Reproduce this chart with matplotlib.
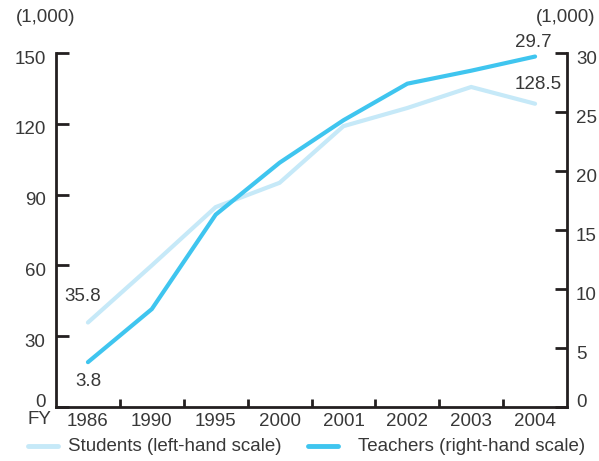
import matplotlib
matplotlib.use("Agg")
import matplotlib.pyplot as plt
import matplotlib.transforms as mtransforms
from matplotlib.lines import Line2D

plt.rcParams['font.family'] = ['Liberation Sans', 'DejaVu Sans']

years = ["1986", "1990", "1995", "2000", "2001", "2002", "2003", "2004"]
students = [35.8, 60.0, 84.7, 95.0, 119.0, 126.7, 135.6, 128.5]   # thousands, left scale
teachers = [3.8, 8.3, 16.3, 20.7, 24.3, 27.4, 28.5, 29.7]         # thousands, right scale

left_ticks = [0, 30, 60, 90, 120, 150]
right_ticks = [0, 5, 10, 15, 20, 25, 30]

W, H = 599, 461
FS = 13.5
TXT = "#383838"
C_STU = "#c6e9f8"
C_TEA = "#3fc5ef"
AX = "#231f20"

fig = plt.figure(figsize=(W / 100, H / 100), dpi=100)
ax = fig.add_axes([56 / W, 1 - 407 / H, (567 - 56) / W, (407 - 53) / H])
ax2 = ax.twinx()

x = list(range(len(years)))
ax.plot(x, students, color=C_STU, lw=3.0, solid_capstyle='round', solid_joinstyle='miter', zorder=3)
ax2.plot(x, teachers, color=C_TEA, lw=3.0, solid_capstyle='round', solid_joinstyle='miter', zorder=3)

ax.set_xlim(-0.5, len(years) - 0.5)
ax.set_ylim(0, 150)
ax2.set_ylim(0, 30)

for a in (ax, ax2):
    a.spines['top'].set_visible(False)
    for s in ('left', 'right', 'bottom'):
        a.spines[s].set_color(AX)
        a.spines[s].set_linewidth(2.0)
ax.spines['right'].set_visible(False)
ax2.spines['left'].set_visible(False)
ax2.spines['bottom'].set_visible(False)

ax.set_yticks(left_ticks)
ax.set_yticklabels([str(v) for v in left_ticks])
ax.tick_params(axis='y', direction='in', length=9, width=2.0, color=AX,
               labelsize=FS, labelcolor=TXT, pad=7.5)
ax2.set_yticks(right_ticks)
ax2.set_yticklabels([str(v) for v in right_ticks])
ax2.tick_params(axis='y', direction='in', length=9, width=2.0, color=AX,
                labelsize=FS, labelcolor=TXT, pad=6.5)

# nudge the y labels slightly below their ticks; the zero labels sit just above the base line
for a in (ax, ax2):
    for lab, val in zip(a.get_yticklabels(), a.get_yticks()):
        dy = 5 / 72 if val == 0 else -3 / 72
        lab.set_transform(lab.get_transform() + mtransforms.ScaledTranslation(0, dy, fig.dpi_scale_trans))

# category boundaries carry the tick marks, labels sit at the centres
ax.set_xticks([i + 0.5 for i in range(len(years) - 1)])
ax.set_xticklabels([])
ax.tick_params(axis='x', direction='in', length=6, width=2.0, color=AX)
for i, yr in enumerate(years):
    ax.annotate(yr, xy=(i, 0), xycoords=('data', 'axes fraction'),
                xytext=(0, -4), textcoords='offset points',
                ha='center', va='top', fontsize=FS, color=TXT)
fig.text(39 / W, 1 - 419 / H, "FY", ha='center', va='center', fontsize=FS, color=TXT)

fig.text(46 / W, 1 - 17 / H, "(1,000)", ha='center', va='center', fontsize=FS, color=TXT)
fig.text(566 / W, 1 - 17 / H, "(1,000)", ha='center', va='center', fontsize=FS, color=TXT)

# value labels at the first and last points
ax.annotate(f"{students[0]}", xy=(0, students[0]), xytext=(-4, 19), textcoords='offset points',
            ha='center', va='center', fontsize=FS, color=TXT)
ax2.annotate(f"{teachers[0]}", xy=(0, teachers[0]), xytext=(0, -14), textcoords='offset points',
             ha='center', va='center', fontsize=FS, color=TXT)
ax2.annotate(f"{teachers[-1]}", xy=(7, teachers[-1]), xytext=(-1, 10), textcoords='offset points',
             ha='center', va='center', fontsize=FS, color=TXT)
ax.annotate(f"{students[-1]}", xy=(7, students[-1]), xytext=(2, 14), textcoords='offset points',
            ha='center', va='center', fontsize=FS, color=TXT)

# legend along the bottom
legend_items = [("Students (left-hand scale)", C_STU, 28, 68),
                ("Teachers (right-hand scale)", C_TEA, 308, 358)]
for label, col, x0, tx in legend_items:
    fig.add_artist(Line2D([x0 / W, (x0 + 30) / W], [1 - 446 / H, 1 - 446 / H],
                          transform=fig.transFigure, color=col, lw=3.5, solid_capstyle='round'))
    fig.text(tx / W, 1 - 446 / H, label, ha='left', va='center', fontsize=FS, color=TXT)

fig.savefig("out.png", dpi=100)
